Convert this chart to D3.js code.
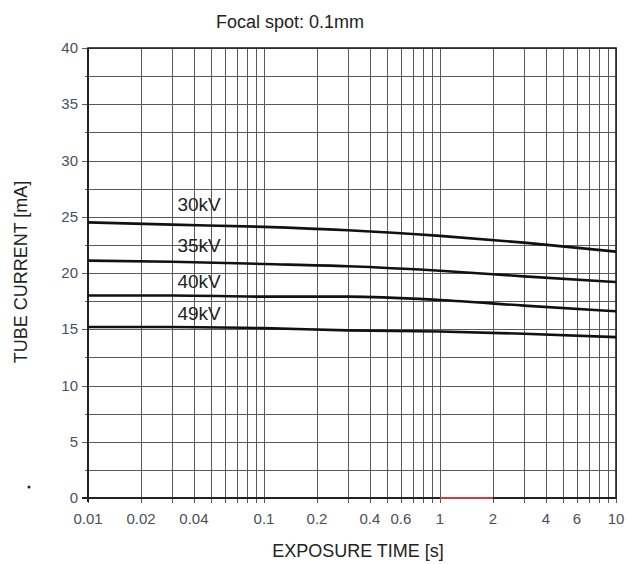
<!DOCTYPE html>
<html><head><meta charset="utf-8">
<script src="https://cdn.jsdelivr.net/npm/d3@7"></script>
<style>body{margin:0;background:#fff}svg{display:block}text{font-family:"Liberation Sans",Arial,sans-serif}</style>
</head><body><svg id="c" width="627" height="564"></svg>
<script>
const times = [0.01, 0.03, 0.1, 0.3, 1, 3, 10];
const seriesNames = ["30kV", "35kV", "40kV", "49kV"];
const kv30 = [24.5, 24.3, 24.1, 23.8, 23.3, 22.7, 21.9];
const kv35 = [21.1, 21.0, 20.8, 20.6, 20.2, 19.7, 19.2];
const kv40 = [18.0, 18.0, 17.9, 17.9, 17.6, 17.1, 16.6];
const kv49 = [15.2, 15.2, 15.1, 14.9, 14.8, 14.6, 14.3];
const xTickLabels = [0.01, 0.02, 0.04, 0.1, 0.2, 0.4, 0.6, 1, 2, 4, 6, 10];
const yTickLabels = [0, 5, 10, 15, 20, 25, 30, 35, 40];
const labelCurrents = [26.2, 22.6, 19.4, 16.5]; // label positions (mA)
const labelTime = 0.0322;
const highlightRange = [1, 2];

const svg = d3.select("#c");
const L = 88, R = 616, T = 48, B = 498;
const x = d3.scaleLog().domain([0.01, 10]).range([L, R]);
const y = d3.scaleLinear().domain([0, 40]).range([B, T]);

// grid
const minorX = [];
for (let d = 0.01; d < 10; d *= 10) for (let k = 1; k <= 9; k++) minorX.push(+(d * k).toPrecision(3));
minorX.push(10);
const gridY = d3.range(0, 40.01, 2.5);
const g = svg.append("g");
g.selectAll(".gx").data(minorX).join("line")
  .attr("x1", d => Math.round(x(d)) + 0.5).attr("x2", d => Math.round(x(d)) + 0.5)
  .attr("y1", T).attr("y2", B + 5).attr("stroke", "#5a5a5a").attr("stroke-width", 1);
g.selectAll(".gy").data(gridY).join("line")
  .attr("y1", d => Math.round(y(d)) + 0.5).attr("y2", d => Math.round(y(d)) + 0.5)
  .attr("x1", d => d % 5 === 0 ? L - 6 : L - 3).attr("x2", R).attr("stroke", "#5a5a5a").attr("stroke-width", 1);

// frame
svg.append("rect").attr("x", L).attr("y", T).attr("width", R - L).attr("height", B - T)
  .attr("fill", "none").attr("stroke", "#222").attr("stroke-width", 1.6);
svg.append("line").attr("x1", L).attr("x2", L).attr("y1", T).attr("y2", B + 4).attr("stroke", "#222").attr("stroke-width", 2);
svg.append("line").attr("x1", L - 6).attr("x2", R).attr("y1", B).attr("y2", B).attr("stroke", "#222").attr("stroke-width", 2);
svg.append("line").attr("x1", x(highlightRange[0])).attr("x2", x(highlightRange[1])).attr("y1", B).attr("y2", B)
  .attr("stroke", "#c8403c").attr("stroke-width", 2);

// axes labels
svg.selectAll(".xt").data(xTickLabels).join("text")
  .attr("x", d => x(d)).attr("y", B + 26).attr("text-anchor", "middle")
  .attr("font-size", 15).attr("fill", "#4a4f5a").text(d => d);
svg.selectAll(".yt").data(yTickLabels).join("text")
  .attr("x", L - 10).attr("y", d => y(d) + 5).attr("text-anchor", "end")
  .attr("font-size", 15).attr("fill", "#4a4f5a").text(d => d);

// curves
const line = d3.line().x(d => x(d[0])).y(d => y(d[1])).curve(d3.curveMonotoneX);
const allSeries = [kv30, kv35, kv40, kv49];
svg.selectAll(".curve").data(allSeries).join("path")
  .attr("d", s => line(times.map((t, i) => [t, s[i]])))
  .attr("fill", "none").attr("stroke", "#111").attr("stroke-width", 2.6);

// curve labels
svg.selectAll(".cl").data(seriesNames).join("text")
  .attr("x", x(labelTime)).attr("y", (d, i) => y(labelCurrents[i]) + 8)
  .attr("font-size", 19).attr("fill", "#222").text(d => d);

// titles
svg.append("text").attr("x", 290).attr("y", 28).attr("text-anchor", "middle")
  .attr("font-size", 18).attr("fill", "#222").text("Focal spot: 0.1mm");
svg.append("text").attr("x", 358).attr("y", 557).attr("text-anchor", "middle")
  .attr("font-size", 18).attr("fill", "#222").text("EXPOSURE TIME [s]");
svg.append("text").attr("transform", "translate(27,272) rotate(-90)").attr("text-anchor", "middle")
  .attr("font-size", 18).attr("fill", "#222").text("TUBE CURRENT [mA]");
svg.append("circle").attr("cx", 29).attr("cy", 487).attr("r", 1.5).attr("fill", "#222");
</script></body></html>
